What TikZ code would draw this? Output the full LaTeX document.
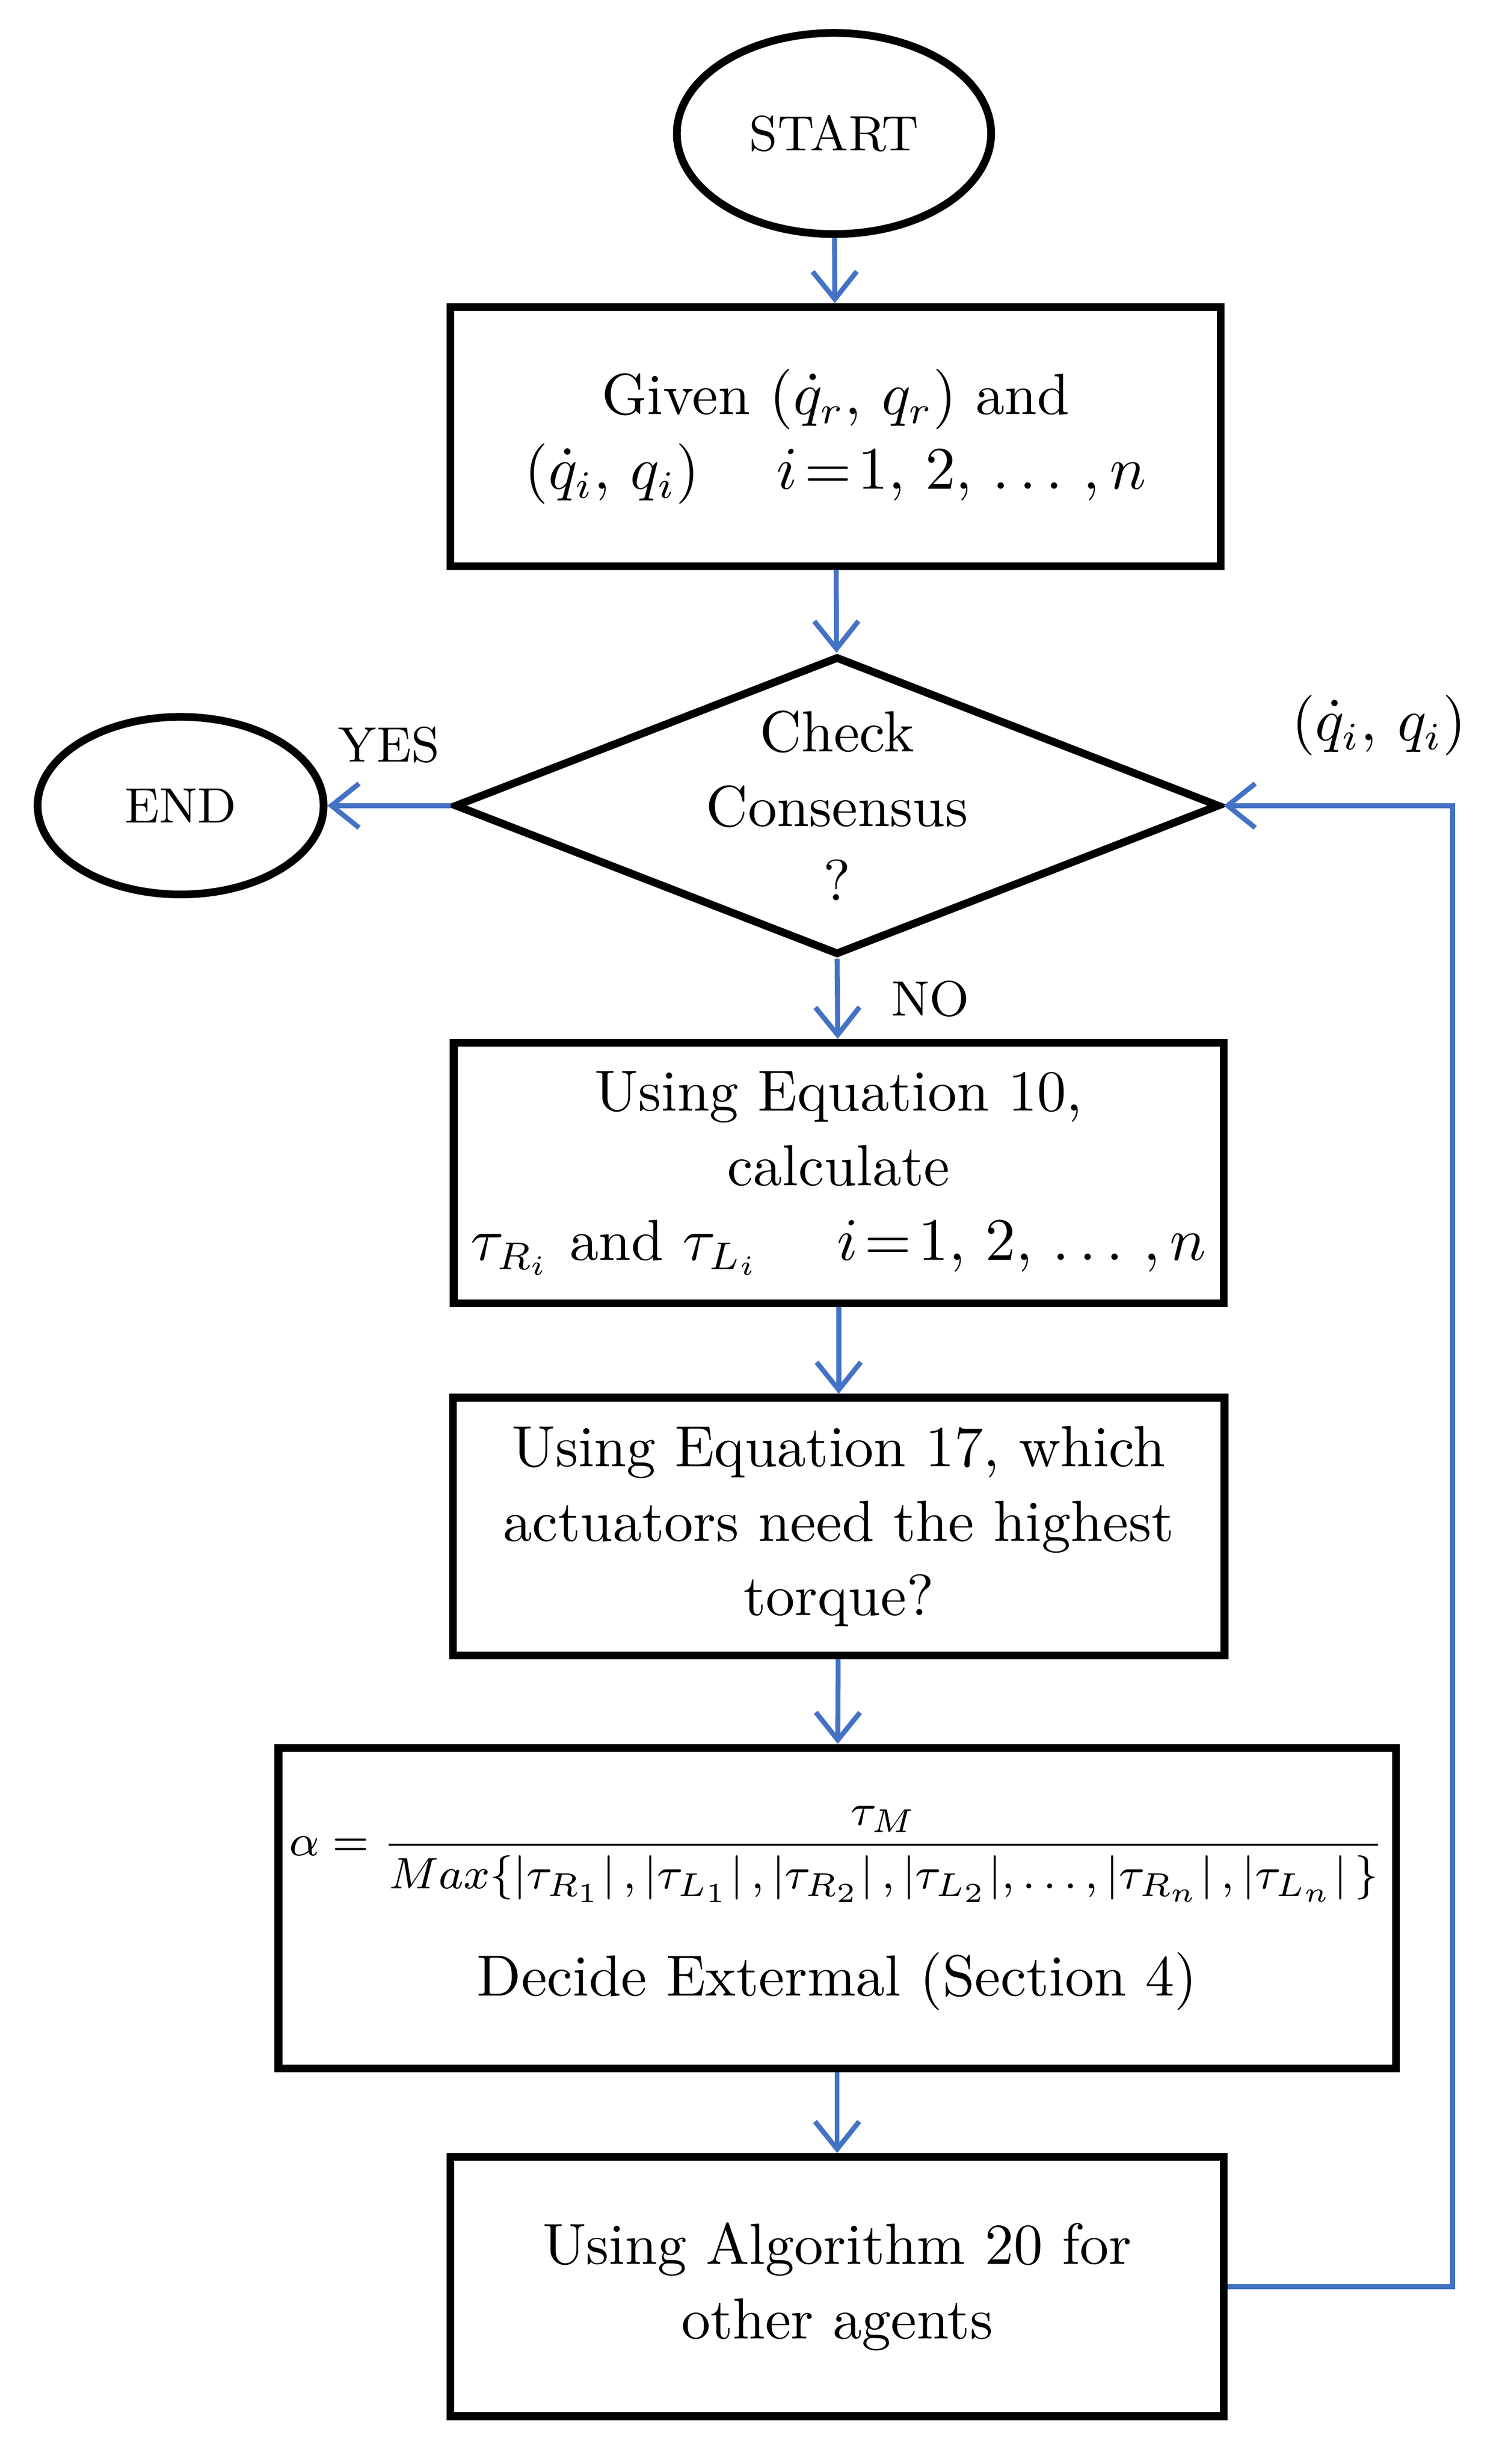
\documentclass[tikz,border=0pt]{standalone}
\usepackage{amsmath}
\usetikzlibrary{shapes.geometric,arrows.meta}
\definecolor{flowblue}{RGB}{68,114,196}
\tikzset{
  box/.style={draw, line width=1.4pt, rectangle, align=center, inner sep=2pt, font=\fontsize{10.5}{13.5}\selectfont},
  term/.style={draw, line width=1.4pt, ellipse, font=\fontsize{9}{11}\selectfont},
  flow/.style={->, >={Straight Barb[length=5pt,width=8pt]}, draw=flowblue, line width=0.9pt},
  lbl/.style={font=\fontsize{9}{11}\selectfont}
}
\begin{document}
\begin{tikzpicture}[x=0.01cm, y=-0.01cm]
    \useasboundingbox (0,0) rectangle (960,1569);

    % Terminals
    \node[term, minimum width=2cm, minimum height=1.28cm] at (531,85) (start) {START};
    \node[term, minimum width=1.82cm, minimum height=1.13cm] at (115,513) (end) {END};

    % Given
    \node[box, minimum width=4.9cm, minimum height=1.65cm] at (532,278) (given)
        {Given $(\dot q_r,\, q_r)$ and\\ $(\dot q_i,\, q_i)\quad\ i\!=\!1,\,2,\,\ldots\,,n$};

    % Decision
    \node[box, diamond, aspect=2.56, inner sep=0pt, minimum width=4.87cm, minimum height=1.9cm] at (533,513) (check)
        {Check\\Consensus\\?};

    % Processing steps
    \node[box, minimum width=4.9cm, minimum height=1.66cm] at (534,747) (eq10)
        {Using Equation 10,\\calculate\\$\tau_{R_i}$ and $\tau_{L_i}\quad\ i\!=\!1,\,2,\,\ldots\,,n$};
    \node[box, minimum width=4.91cm, minimum height=1.64cm] at (534,972) (eq17)
        {Using Equation 17, which\\actuators need the highest\\torque?};
    \node[box, minimum width=7.1cm, minimum height=2.04cm] at (533,1215) (alpha)
        {{\fontsize{8.5}{10}\selectfont$\alpha=\dfrac{\tau_M}{Max\{|\tau_{R_1}|\,,|\tau_{L_1}|\,,|\tau_{R_2}|\,,|\tau_{L_2}|,\ldots,|\tau_{R_n}|\,,|\tau_{L_n}|\,\}}$}\\[8pt]
         Decide Extermal (Section 4)};
    \node[box, minimum width=4.92cm, minimum height=1.65cm] at (533,1456) (algo)
        {Using Algorithm 20 for\\other agents};

    % Feedback corner
    \coordinate (corner) at (925,1456);

    % Connectors
    \draw[flow] (start) -- (given);
    \draw[flow] (given) -- (check);
    \draw[flow] (check.west) -- (end) node[lbl, midway, above, yshift=4pt] {YES};
    \draw[flow] (check.south) -- (eq10) node[lbl, midway, right, xshift=6pt] {NO};
    \draw[flow] (eq10) -- (eq17);
    \draw[flow] (eq17) -- (alpha);
    \draw[flow] (alpha) -- (algo);
    \draw[flow] (algo.east) -- (corner) |- (check.east);

    % Feedback label
    \node[font=\fontsize{10.5}{13.5}\selectfont] at (878,462) (fb) {$(\dot q_i,\, q_i)$};
\end{tikzpicture}
\end{document}
